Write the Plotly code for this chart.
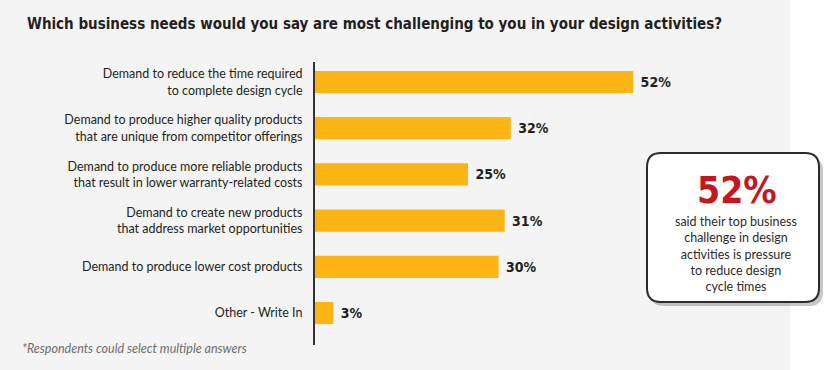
import plotly.graph_objects as go

categories = [
    "Demand to reduce the time required<br>to complete design cycle",
    "Demand to produce higher quality products<br>that are unique from competitor offerings",
    "Demand to produce more reliable products<br>that result in lower warranty-related costs",
    "Demand to create new products<br>that address market opportunities",
    "Demand to produce lower cost products",
    "Other - Write In",
]
values = [52, 32, 25, 31, 30, 3]

title_text = "Which business needs would you say are most challenging to you in your design activities?"
footnote_text = "*Respondents could select multiple answers"
callout_big = "52%"
callout_body = "said their top business<br>challenge in design<br>activities is pressure<br>to reduce design<br>cycle times"

W, H = 824, 370
L, R, T, B = 315, 30, 62, 25
PW, PH = W - L - R, H - T - B


def px(x):
    return (x - L) / PW


def py(y):
    return 1 - (y - T) / PH


BAR = "#FDB515"
LABEL_FONT = "Lato, 'Noto Sans', sans-serif"
COND_FONT = "'DejaVu Sans Condensed', 'Liberation Sans Narrow', sans-serif"

fig = go.Figure(
    go.Bar(
        x=values,
        y=categories,
        orientation="h",
        marker=dict(color=BAR, line=dict(width=0)),
        width=0.48,
        text=[f"\u00a0{v}%" for v in values],
        textposition="outside",
        textfont=dict(family=COND_FONT, size=14, color="#231f20", weight=700),
        cliponaxis=False,
        hoverinfo="skip",
    )
)


def rounded_path(x0, y0, x1, y1, r):
    pts = [
        f"M {px(x0 + r)},{py(y0)}",
        f"L {px(x1 - r)},{py(y0)}",
        f"Q {px(x1)},{py(y0)} {px(x1)},{py(y0 + r)}",
        f"L {px(x1)},{py(y1 - r)}",
        f"Q {px(x1)},{py(y1)} {px(x1 - r)},{py(y1)}",
        f"L {px(x0 + r)},{py(y1)}",
        f"Q {px(x0)},{py(y1)} {px(x0)},{py(y1 - r)}",
        f"L {px(x0)},{py(y0 + r)}",
        f"Q {px(x0)},{py(y0)} {px(x0 + r)},{py(y0)}",
        "Z",
    ]
    return " ".join(pts)


shapes = [
    # white strip on right of the gray panel
    dict(type="rect", xref="paper", yref="paper", x0=px(790), x1=px(W + 5),
         y0=py(H + 5), y1=py(-5), fillcolor="white", line=dict(width=0), layer="below"),
    # callout shadow
    dict(type="path", xref="paper", yref="paper",
         path=rounded_path(650, 157, 823, 306, 14),
         fillcolor="rgba(0,0,0,0.22)", line=dict(width=0), layer="above"),
    # callout box
    dict(type="path", xref="paper", yref="paper",
         path=rounded_path(647, 153, 819, 302, 14),
         fillcolor="white", line=dict(color="#2b2b2b", width=2), layer="above"),
]

annotations = [
    dict(text=f"<b>{title_text}</b>", xref="paper", yref="paper", x=px(25), y=py(24),
         xanchor="left", yanchor="middle", showarrow=False,
         font=dict(family=COND_FONT, size=15, color="#231f20")),
    dict(text=f"<i>{footnote_text}</i>", xref="paper", yref="paper", x=px(20), y=py(348),
         xanchor="left", yanchor="middle", showarrow=False,
         font=dict(family=LABEL_FONT, size=12.5, color="#6d6d6d")),
    dict(text=f"<b>{callout_big}</b>", xref="paper", yref="paper", x=px(737), y=py(190),
         xanchor="center", yanchor="middle", showarrow=False,
         font=dict(family=COND_FONT, size=37, color="#C4161C")),
    dict(text=callout_body, xref="paper", yref="paper", x=px(736), y=py(254),
         xanchor="center", yanchor="middle", showarrow=False, align="center",
         font=dict(family=LABEL_FONT, size=12.5, color="#2b2b2b")),
]

fig.update_layout(
    width=W, height=H,
    margin=dict(l=L, r=R, t=T, b=B, autoexpand=False),
    paper_bgcolor="#f4f4f4",
    plot_bgcolor="rgba(0,0,0,0)",
    showlegend=False,
    shapes=shapes,
    annotations=annotations,
    bargap=0.52,
    xaxis=dict(range=[0, PW / 6.12], visible=False, fixedrange=True),
    yaxis=dict(
        type="category",
        categoryorder="array",
        categoryarray=categories,
        range=[5 + 32 / 46.2, -20 / 46.2],
        showline=True, linecolor="#333333", linewidth=2,
        ticks="", showgrid=False, zeroline=False,
        ticklabelstandoff=8,
        tickfont=dict(family=LABEL_FONT, size=12.5, color="#231f20"),
        fixedrange=True,
    ),
)

fig.write_html(
    "out.html",
    config={"displayModeBar": False},
    post_script="document.body.style.margin='0';document.body.style.padding='0';",
)
